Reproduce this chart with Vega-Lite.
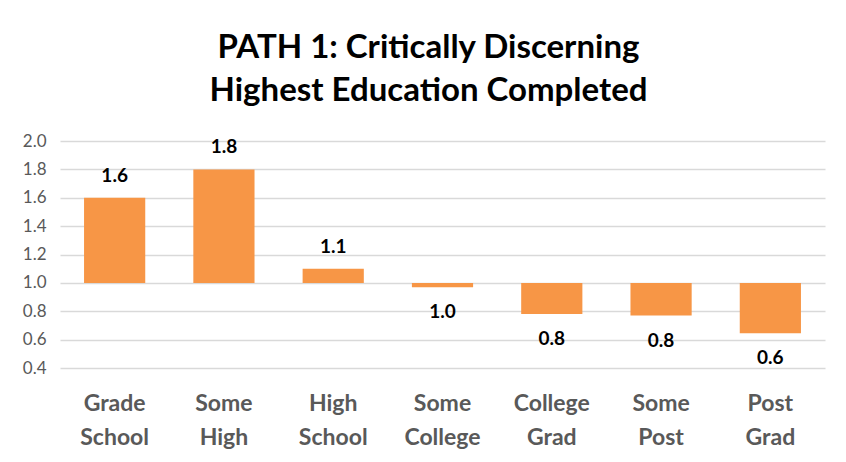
{
  "$schema": "https://vega.github.io/schema/vega-lite/v6.json",
  "autosize": {"type": "none"},
  "padding": {"left": 60, "top": 141, "right": 21, "bottom": 94},
  "width": 765,
  "height": 227,
  "background": "white",
  "title": {
    "text": ["PATH 1: Critically Discerning", "Highest Education Completed"],
    "font": "Lato",
    "fontSize": 33,
    "fontWeight": "bold",
    "color": "#000000",
    "lineHeight": 43,
    "anchor": "middle",
    "dx": -14,
    "offset": 24
  },
  "data": {
    "values": [
      {"category": "Grade School", "value": 1.6},
      {"category": "Some High", "value": 1.8},
      {"category": "High School", "value": 1.1},
      {"category": "Some College", "value": 0.97},
      {"category": "College Grad", "value": 0.78},
      {"category": "Some Post", "value": 0.77},
      {"category": "Post Grad", "value": 0.645}
    ]
  },
  "encoding": {
    "x": {
      "field": "category",
      "type": "nominal",
      "sort": null,
      "scale": {"paddingInner": 0.44, "paddingOuter": 0.22},
      "axis": {
        "title": null,
        "ticks": false,
        "domain": false,
        "labelAngle": 0,
        "labelFont": "Lato",
        "labelFontSize": 23,
        "labelFontWeight": "bold",
        "labelColor": "#595959",
        "labelPadding": 24,
        "labelLineHeight": 34,
        "labelExpr": "split(datum.label, ' ')"
      }
    },
    "y": {
      "field": "value",
      "type": "quantitative",
      "scale": {"domain": [0.4, 2.0], "nice": false, "zero": false},
      "axis": {
        "title": null,
        "values": [0.4, 0.6, 0.8, 1.0, 1.2, 1.4, 1.6, 1.8, 2.0],
        "format": ".1f",
        "ticks": false,
        "domain": false,
        "labelOverlap": false,
        "labelFont": "Lato",
        "labelFontSize": 17,
        "labelColor": "#595959",
        "labelPadding": 14,
        "gridColor": "#d9d9d9",
        "gridWidth": 1.3
      }
    }
  },
  "layer": [
    {
      "mark": {"type": "bar", "color": "#F79646"},
      "encoding": {
        "y2": {"datum": 1.0}
      }
    },
    {
      "transform": [{"filter": "datum.value >= 1"}],
      "mark": {"type": "text", "font": "Lato", "fontSize": 19, "fontWeight": "bold", "color": "#000000", "baseline": "middle", "dy": -22},
      "encoding": {
        "text": {"field": "value", "type": "quantitative", "format": ".1f"}
      }
    },
    {
      "transform": [{"filter": "datum.value < 1"}],
      "mark": {"type": "text", "font": "Lato", "fontSize": 19, "fontWeight": "bold", "color": "#000000", "baseline": "middle", "dy": 25},
      "encoding": {
        "text": {"field": "value", "type": "quantitative", "format": ".1f"}
      }
    }
  ],
  "config": {"view": {"stroke": null}}
}
